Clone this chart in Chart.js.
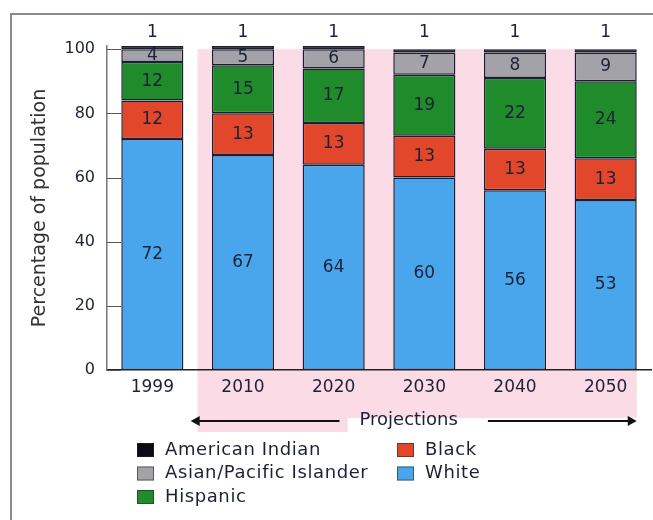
<!DOCTYPE html>
<html>
<head>
<meta charset="utf-8">
<script src="https://cdn.jsdelivr.net/npm/chart.js@4/dist/chart.umd.min.js"></script>
<style>
html,body{margin:0;padding:0;background:#fff;}
canvas{display:block;}
</style>
</head>
<body>
<canvas id="c" width="653" height="520"></canvas>
<script>
// ---- data ----
const years = ['1999', '2010', '2020', '2030', '2040', '2050'];
const white = [72, 67, 64, 60, 56, 53];
const black = [12, 13, 13, 13, 13, 13];
const hispanic = [12, 15, 17, 19, 22, 24];
const asianPacific = [4, 5, 6, 7, 8, 9];
const americanIndian = [1, 1, 1, 1, 1, 1];
const yTickValues = [0, 20, 40, 60, 80, 100];
const projectionLabel = 'Projections';
const yTitle = 'Percentage of population';

const FONT = '"DejaVu Sans", sans-serif';
const TEXT = '#1c2236';

// background (frame + pink projection area)
const backdrop = {
  id: 'backdrop',
  beforeDraw(chart) {
    const ctx = chart.ctx;
    const x = chart.scales.x, y = chart.scales.y;
    ctx.save();
    ctx.fillStyle = '#fff';
    ctx.fillRect(0, 0, chart.width, chart.height);
    // frame
    ctx.strokeStyle = '#8c8c8c';
    ctx.lineWidth = 2;
    ctx.beginPath();
    ctx.moveTo(11, chart.height + 2);
    ctx.lineTo(11, 14);
    ctx.lineTo(chart.width + 2, 14);
    ctx.stroke();
    // pink area
    const meta = chart.getDatasetMeta(0);
    const last = meta.data[meta.data.length - 1];
    const left = (x.getPixelForValue(0) + x.getPixelForValue(1)) / 2;
    const right = last.x + last.width / 2;
    const top = y.getPixelForValue(100);
    ctx.fillStyle = '#fadbe6';
    ctx.fillRect(left, top, right - left, 418 - top);
    ctx.fillRect(left, 418, 150, 14);
    ctx.restore();
  },
  afterDraw(chart) {
    const ctx = chart.ctx;
    const x = chart.scales.x, y = chart.scales.y;
    ctx.save();
    // inward y ticks
    ctx.strokeStyle = '#555';
    ctx.lineWidth = 1;
    yTickValues.forEach(v => {
      const py = Math.round(y.getPixelForValue(v)) + 0.5;
      ctx.beginPath();
      ctx.moveTo(chart.chartArea.left, py);
      ctx.lineTo(chart.chartArea.left + 14, py);
      ctx.stroke();
    });
    // projections arrow
    const meta = chart.getDatasetMeta(0);
    const last = meta.data[meta.data.length - 1];
    const left = (x.getPixelForValue(0) + x.getPixelForValue(1)) / 2 - 7;
    const right = last.x + last.width / 2;
    const ay = 421;
    const cx = (left + right) / 2 - 5;
    ctx.font = '18px ' + FONT;
    ctx.fillStyle = TEXT;
    ctx.textAlign = 'center';
    ctx.textBaseline = 'middle';
    ctx.fillText(projectionLabel, cx, ay - 1);
    const tw = ctx.measureText(projectionLabel).width;
    ctx.strokeStyle = '#111';
    ctx.lineWidth = 2;
    ctx.beginPath();
    ctx.moveTo(left + 4, ay); ctx.lineTo(cx - tw / 2 - 20, ay);
    ctx.moveTo(cx + tw / 2 + 30, ay); ctx.lineTo(right - 4, ay);
    ctx.stroke();
    ctx.fillStyle = '#111';
    ctx.beginPath();
    ctx.moveTo(left, ay); ctx.lineTo(left + 9, ay - 5); ctx.lineTo(left + 9, ay + 5); ctx.closePath(); ctx.fill();
    ctx.beginPath();
    ctx.moveTo(right, ay); ctx.lineTo(right - 9, ay - 5); ctx.lineTo(right - 9, ay + 5); ctx.closePath(); ctx.fill();
    // legend
    const order = [4, 3, 2, 1, 0];
    ctx.font = '18px ' + FONT;
    ctx.letterSpacing = '0.6px';
    ctx.textAlign = 'left';
    ctx.textBaseline = 'middle';
    order.forEach((di, i) => {
      const ds = chart.data.datasets[di];
      const col = i < 3 ? 0 : 1;
      const row = i < 3 ? i : i - 3;
      const lx = col === 0 ? 137 : 397;
      const ly = 450 + row * 23.5;
      ctx.fillStyle = ds.backgroundColor;
      ctx.fillRect(lx, ly - 7, 17, 14);
      ctx.strokeStyle = 'rgba(40,40,40,0.6)';
      ctx.lineWidth = 1;
      ctx.strokeRect(lx + 0.5, ly - 6.5, 16, 13);
      ctx.fillStyle = TEXT;
      ctx.fillText(ds.label, lx + 28, ly);
    });
    ctx.restore();
  }
};

// value labels
const valueLabels = {
  id: 'valueLabels',
  afterDatasetsDraw(chart) {
    const ctx = chart.ctx;
    const topY = chart.scales.y.getPixelForValue(chart.scales.y.max);
    ctx.save();
    ctx.font = '17px ' + FONT;
    ctx.fillStyle = TEXT;
    ctx.textAlign = 'center';
    ctx.textBaseline = 'middle';
    chart.data.datasets.forEach((ds, di) => {
      const meta = chart.getDatasetMeta(di);
      meta.data.forEach((el, i) => {
        const v = ds.data[i];
        if (di === chart.data.datasets.length - 1) {
          ctx.fillText(String(v), el.x, topY - 13);
        } else {
          ctx.fillText(String(v), el.x, (el.y + el.base) / 2);
        }
      });
    });
    ctx.restore();
  }
};

const mk = (label, data, color) => ({
  label, data, backgroundColor: color,
  borderColor: '#1a2030', borderWidth: 1.5, borderSkipped: false,
  barPercentage: 0.685, categoryPercentage: 1
});

new Chart(document.getElementById('c'), {
  type: 'bar',
  data: {
    labels: years,
    datasets: [
      mk('White', white, '#4aa6ec'),
      mk('Black', black, '#e2472c'),
      mk('Hispanic', hispanic, '#1f8b2b'),
      mk('Asian/Pacific Islander', asianPacific, '#a2a2a8'),
      mk('American Indian', americanIndian, '#0b0b14')
    ]
  },
  options: {
    responsive: false,
    animation: false,
    layout: { padding: { left: 0, top: 46, right: 2, bottom: 0 } },
    plugins: { legend: { display: false }, tooltip: { enabled: false } },
    scales: {
      x: {
        stacked: true,
        grid: { display: false, drawTicks: false },
        border: { display: true, color: '#222', width: 1.5 },
        ticks: { color: TEXT, font: { family: FONT, size: 17 }, padding: 7 },
        afterFit(s) { s.height = 150; }
      },
      y: {
        stacked: true,
        min: 0, max: 101,
        grid: { display: false, drawTicks: false },
        border: { display: true, color: '#777', width: 1.5 },
        ticks: {
          stepSize: 20, includeBounds: false, padding: 12,
          color: TEXT, font: { family: FONT, size: 16 }
        },
        title: {
          display: true, text: yTitle, color: '#333',
          font: { family: FONT, size: 19 }, padding: { top: 29, bottom: 0 }
        },
        afterFit(s) { s.width = 107; }
      }
    }
  },
  plugins: [backdrop, valueLabels]
});
</script>
</body>
</html>
